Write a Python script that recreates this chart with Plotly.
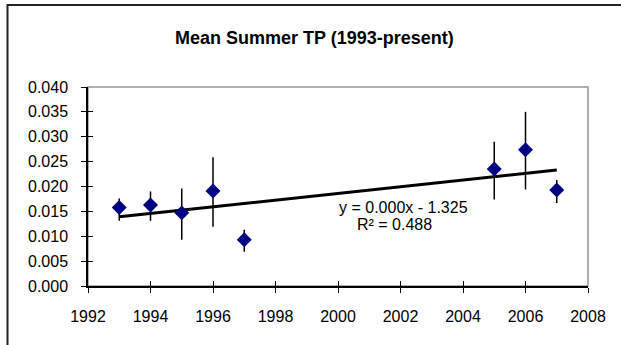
import numpy as np
import plotly.graph_objects as go

# Mean summer total phosphorus per year, with the spread around each mean
years = [1993, 1994, 1995, 1996, 1997, 2005, 2006, 2007]
tp_mean = [0.0158, 0.0163, 0.0147, 0.0191, 0.0093, 0.0235, 0.0274, 0.0193]
err_plus = [0.0018, 0.0027, 0.0049, 0.0068, 0.0020, 0.0055, 0.0076, 0.0020]
err_minus = [0.0027, 0.0032, 0.0054, 0.0072, 0.0024, 0.0061, 0.0080, 0.0026]

# Linear trend (as reported by the fit label)
trend_slope = 0.0006718
trend_intercept = -1.325
trend_r2 = 0.488
eq_label = "y = 0.000x - 1.325"
r2_label = f"R² = {trend_r2:.3f}"

x_ticks = list(range(1992, 2010, 2))
y_ticks = [round(v * 0.005, 3) for v in range(0, 9)]

FONT = "Liberation Sans, Arial, sans-serif"

trend_x = np.array([years[0], years[-1]], dtype=float)
trend_y = trend_slope * trend_x + trend_intercept

fig = go.Figure()

fig.add_trace(go.Scatter(
    x=trend_x, y=trend_y, mode="lines",
    line=dict(color="black", width=3),
    hoverinfo="skip", showlegend=False,
))

fig.add_trace(go.Scatter(
    x=years, y=tp_mean, mode="markers",
    marker=dict(symbol="diamond", size=11.5, color="#000080", line=dict(width=0)),
    error_y=dict(type="data", symmetric=False, array=err_plus, arrayminus=err_minus,
                 color="black", thickness=1.5, width=0),
    showlegend=False,
))

# second set of axes supplies the inward half of the crossing tick marks
fig.add_trace(go.Scatter(x=[None], y=[None], xaxis="x2", yaxis="y2",
                         showlegend=False, hoverinfo="skip"))

W, H = 621, 345
L, R, T, B = 88, 33, 87, 59
pw, ph = W - L - R, H - T - B


def px_to_paper_x(px):
    return (px - L) / pw


def px_to_paper_y(py):
    return (H - B - py) / ph


axis_common = dict(
    showgrid=False, zeroline=False,
    tickfont=dict(family=FONT, size=16, color="black"),
)

fig.update_layout(
    width=W, height=H,
    margin=dict(l=L, r=R, t=T, b=B),
    paper_bgcolor="white", plot_bgcolor="white",
    font=dict(family=FONT, color="black"),
    xaxis=dict(range=[1992, 2008], tickvals=x_ticks, ticks="outside", ticklen=5,
               tickwidth=1, tickcolor="black", showline=True, linecolor="black",
               linewidth=1.5, ticklabelstandoff=10, **axis_common),
    yaxis=dict(range=[0, 0.04], tickvals=y_ticks, tickformat=".3f", ticks="outside",
               ticklen=5, tickwidth=1, tickcolor="black", showline=True,
               linecolor="black", linewidth=1.5, ticklabelstandoff=10, **axis_common),
    xaxis2=dict(range=[1992, 2008], tickvals=x_ticks, ticks="inside", ticklen=5,
                tickwidth=1, tickcolor="black", showticklabels=False, showline=False,
                showgrid=False, zeroline=False, overlaying="x", anchor="y"),
    yaxis2=dict(range=[0, 0.04], tickvals=y_ticks, ticks="inside", ticklen=5,
                tickwidth=1, tickcolor="black", showticklabels=False, showline=False,
                showgrid=False, zeroline=False, overlaying="y", anchor="x"),
    shapes=[
        # plot-area border
        dict(type="rect", xref="paper", yref="paper", x0=0, x1=1, y0=0, y1=1,
             line=dict(color="#969696", width=1.5), layer="below"),
        # chart frame
        dict(type="rect", xref="paper", yref="paper",
             x0=px_to_paper_x(7.5), x1=px_to_paper_x(640),
             y0=px_to_paper_y(360), y1=px_to_paper_y(5),
             line=dict(color="#222222", width=2), layer="below"),
    ],
    annotations=[
        dict(text="<b>Mean Summer TP (1993-present)</b>", xref="paper", yref="paper",
             x=px_to_paper_x(314), y=px_to_paper_y(38), xanchor="center",
             yanchor="middle", showarrow=False,
             font=dict(family=FONT, size=18, color="black")),
        dict(text=eq_label, xref="x", yref="y", x=2002.1, y=0.01574,
             xanchor="center", yanchor="middle", showarrow=False,
             font=dict(family=FONT, size=16, color="black")),
        dict(text=r2_label, xref="x", yref="y", x=2001.8, y=0.01246,
             xanchor="center", yanchor="middle", showarrow=False,
             font=dict(family=FONT, size=16, color="black")),
    ],
)

fig.write_html("out.html")
